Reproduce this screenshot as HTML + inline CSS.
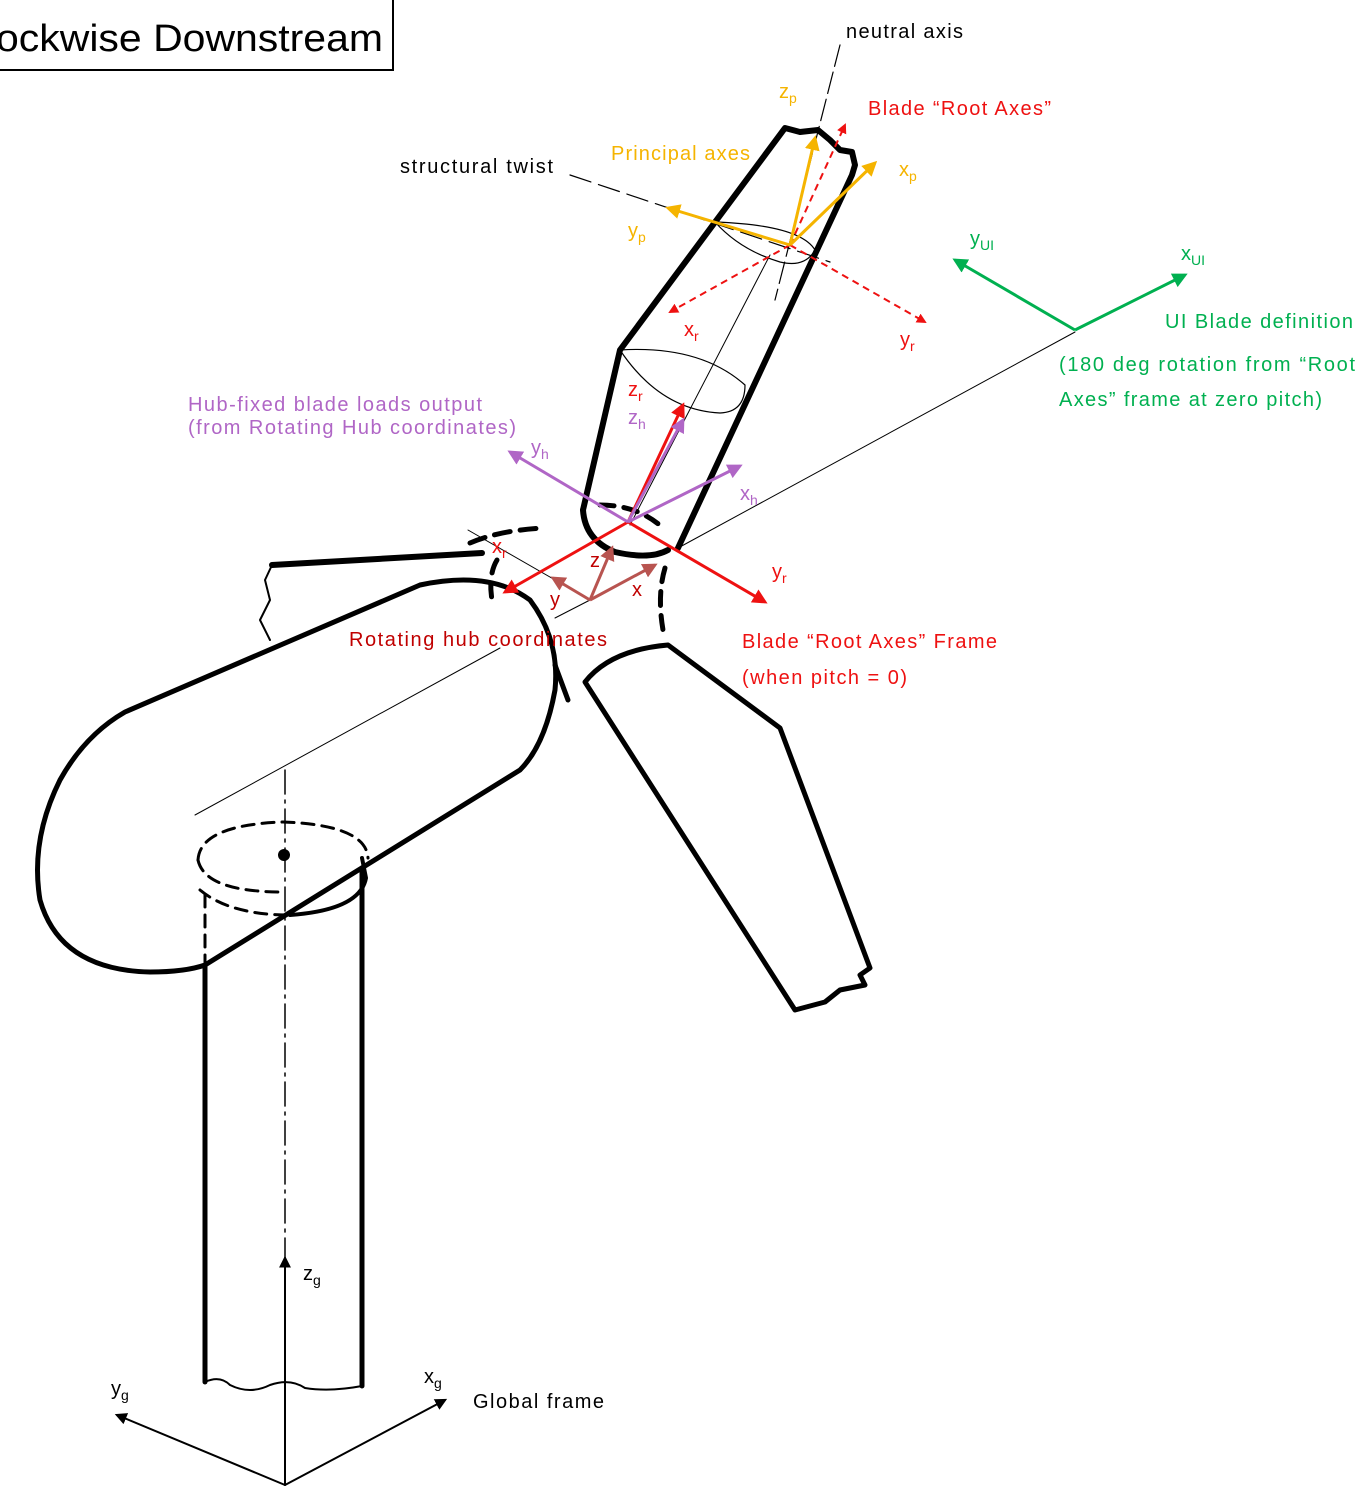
<!DOCTYPE html>
<html><head><meta charset="utf-8"><style>
html,body{margin:0;padding:0;background:#fff}
svg{display:block}
text{font-family:"Liberation Sans",sans-serif;font-size:20px}
</style></head><body>
<svg width="1371" height="1503" viewBox="0 0 1371 1503" xmlns="http://www.w3.org/2000/svg">
<defs>
<marker id="ar" viewBox="0 0 10 10" refX="8" refY="5" markerWidth="5" markerHeight="5" orient="auto"><path d="M0,0L10,5L0,10z" fill="#ee1111"/></marker>
<marker id="ap" viewBox="0 0 10 10" refX="8" refY="5" markerWidth="5" markerHeight="5" orient="auto"><path d="M0,0L10,5L0,10z" fill="#b066c6"/></marker>
<marker id="ao" viewBox="0 0 10 10" refX="8" refY="5" markerWidth="5" markerHeight="5" orient="auto"><path d="M0,0L10,5L0,10z" fill="#f5b400"/></marker>
<marker id="ag" viewBox="0 0 10 10" refX="8" refY="5" markerWidth="5" markerHeight="5" orient="auto"><path d="M0,0L10,5L0,10z" fill="#00b050"/></marker>
<marker id="ab" viewBox="0 0 10 10" refX="8" refY="5" markerWidth="5" markerHeight="5" orient="auto"><path d="M0,0L10,5L0,10z" fill="#b85450"/></marker>
<marker id="ak" viewBox="0 0 10 10" refX="8" refY="5" markerWidth="6" markerHeight="6" orient="auto"><path d="M0,0L10,5L0,10z" fill="#000"/></marker>
</defs>

<rect x="-5" y="-5" width="398" height="75" fill="none" stroke="#000" stroke-width="2"/>
<text x="-4" y="51" style="font-size:38px" textLength="387" lengthAdjust="spacingAndGlyphs">ockwise Downstream</text>

<g fill="none" stroke="#000" stroke-linecap="round" stroke-linejoin="round">
<line x1="840" y1="45" x2="775" y2="300" stroke-width="1.2" stroke-dasharray="22,6"/>
<line x1="570" y1="175" x2="830" y2="262" stroke-width="1.2" stroke-dasharray="22,8"/>
<line x1="770" y1="255" x2="630" y2="525" stroke-width="1"/>
<line x1="678" y1="548" x2="1075" y2="332" stroke-width="1"/>
<line x1="195" y1="815" x2="500" y2="648" stroke-width="1"/>
<line x1="468" y1="530" x2="590" y2="600" stroke-width="1"/>
<line x1="590" y1="600" x2="555" y2="618" stroke-width="1"/>
<line x1="285" y1="770" x2="285" y2="1260" stroke-width="1.5" stroke-dasharray="24,6,3,6"/>
<path d="M583,510 L620,350 L785,128 L800,132 L818,130 L830,140 L840,150 L852,152 L855,165 L852,175 L678,548" stroke-width="6"/>
<path d="M583,510 Q585,540 615,552 Q650,560 668,550" stroke-width="6"/>
<path d="M620,350 Q700,345 745,385 Q745,412 720,413 Q660,410 620,350" stroke-width="1.2"/>
<path d="M715,222 Q800,225 815,250 Q805,268 780,262 Q740,250 715,222" stroke-width="1.2"/>
<path d="M470,543 Q500,530 545,528" stroke-width="5" stroke-dasharray="16,10"/>
<path d="M497,560 Q488,575 492,600" stroke-width="5" stroke-dasharray="14,10"/>
<path d="M600,505 Q640,505 665,530" stroke-width="5" stroke-dasharray="14,10"/>
<path d="M665,568 Q657,595 663,630" stroke-width="5" stroke-dasharray="14,10"/>
<path d="M272,565 L482,553" stroke-width="6"/>
<path d="M272,565 L265,580 L270,600 L260,620 L270,640" stroke-width="2"/>
<path d="M125,712 L420,585 Q490,570 530,600 Q560,640 555,690 Q545,745 520,770 L205,965 Q185,972 150,972 Q60,970 40,900 Q30,840 60,780 Q85,735 125,712" stroke-width="5"/>
<path d="M555,665 L568,700" stroke-width="5"/>
<path d="M205,965 L205,1382" stroke-width="5"/>
<path d="M362,870 L362,1386" stroke-width="5"/>
<path d="M205,1382 Q220,1375 230,1385 Q250,1395 270,1385 Q290,1378 305,1388 Q330,1392 362,1386" stroke-width="2"/>
<path d="M198,860 Q200,825 283,822 Q366,825 368,858" stroke-width="3" stroke-dasharray="12,8"/>
<path d="M198,860 Q205,892 283,892" stroke-width="3" stroke-dasharray="12,8"/>
<path d="M205,895 L205,965" stroke-width="3" stroke-dasharray="12,8"/>
<path d="M290,915 Q360,910 366,878 L362,858" stroke-width="4"/>
<path d="M200,890 Q230,915 290,915" stroke-width="3" stroke-dasharray="12,8"/>
<circle cx="284" cy="855" r="6" fill="#000" stroke="none"/>
<path d="M585,682 Q610,650 668,645 L780,728 L870,968 L860,975 L865,985 L840,990 L825,1002 L795,1010 L585,682" stroke-width="5"/>
<line x1="285" y1="1485" x2="285" y2="1258" stroke-width="2" marker-end="url(#ak)"/>
<line x1="285" y1="1485" x2="117" y2="1415" stroke-width="2" marker-end="url(#ak)"/>
<line x1="285" y1="1485" x2="445" y2="1400" stroke-width="2" marker-end="url(#ak)"/>
</g>

<g stroke-width="2" fill="none">
<line x1="790" y1="245" x2="845" y2="125" stroke="#ee1111" stroke-dasharray="7,5" marker-end="url(#ar)"/>
<line x1="790" y1="245" x2="670" y2="312" stroke="#ee1111" stroke-dasharray="7,5" marker-end="url(#ar)"/>
<line x1="790" y1="245" x2="925" y2="322" stroke="#ee1111" stroke-dasharray="7,5" marker-end="url(#ar)"/>
<g stroke-width="3">
<line x1="790" y1="245" x2="815" y2="138" stroke="#f5b400" marker-end="url(#ao)"/>
<line x1="790" y1="245" x2="875" y2="163" stroke="#f5b400" marker-end="url(#ao)"/>
<line x1="790" y1="245" x2="668" y2="208" stroke="#f5b400" marker-end="url(#ao)"/>
<line x1="1075" y1="330" x2="955" y2="260" stroke="#00b050" marker-end="url(#ag)"/>
<line x1="1075" y1="330" x2="1185" y2="275" stroke="#00b050" marker-end="url(#ag)"/>
<line x1="628" y1="522" x2="683" y2="405" stroke="#ee1111" marker-end="url(#ar)"/>
<line x1="628" y1="522" x2="505" y2="592" stroke="#ee1111" marker-end="url(#ar)"/>
<line x1="628" y1="522" x2="765" y2="602" stroke="#ee1111" marker-end="url(#ar)"/>
<line x1="628" y1="522" x2="683" y2="420" stroke="#b066c6" marker-end="url(#ap)"/>
<line x1="628" y1="522" x2="510" y2="452" stroke="#b066c6" marker-end="url(#ap)"/>
<line x1="628" y1="522" x2="740" y2="466" stroke="#b066c6" marker-end="url(#ap)"/>
<line x1="590" y1="600" x2="612" y2="548" stroke="#b85450" marker-end="url(#ab)"/>
<line x1="590" y1="600" x2="553" y2="578" stroke="#b85450" marker-end="url(#ab)"/>
<line x1="590" y1="600" x2="655" y2="565" stroke="#b85450" marker-end="url(#ab)"/>
</g>
</g>

<g fill="#000">
<text x="846" y="38" textLength="117">neutral axis</text>
<text x="400" y="173" textLength="153">structural twist</text>
<text x="473" y="1408" textLength="131">Global frame</text>
<text x="303" y="1280">z<tspan font-size="14" dy="5">g</tspan></text>
<text x="111" y="1395">y<tspan font-size="14" dy="5">g</tspan></text>
<text x="424" y="1383">x<tspan font-size="14" dy="5">g</tspan></text>
</g>
<g fill="#f5b400">
<text x="611" y="160" textLength="139">Principal axes</text>
<text x="779" y="98">z<tspan font-size="14" dy="5">p</tspan></text>
<text x="899" y="176">x<tspan font-size="14" dy="5">p</tspan></text>
<text x="628" y="237">y<tspan font-size="14" dy="5">p</tspan></text>
</g>
<g fill="#ee1111">
<text x="868" y="115" textLength="183">Blade “Root Axes”</text>
<text x="684" y="336">x<tspan font-size="14" dy="5">r</tspan></text>
<text x="900" y="346">y<tspan font-size="14" dy="5">r</tspan></text>
<text x="628" y="396">z<tspan font-size="14" dy="5">r</tspan></text>
<text x="492" y="553">x<tspan font-size="14" dy="5">r</tspan></text>
<text x="772" y="578">y<tspan font-size="14" dy="5">r</tspan></text>
<text x="742" y="648" textLength="255">Blade “Root Axes” Frame</text>
<text x="742" y="684" textLength="165">(when pitch = 0)</text>
</g>
<g fill="#c00000">
<text x="349" y="646" textLength="258">Rotating hub coordinates</text>
<text x="590" y="567">z</text>
<text x="550" y="606">y</text>
<text x="632" y="596">x</text>
</g>
<g fill="#b066c6">
<text x="188" y="411" textLength="294">Hub-fixed blade loads output</text>
<text x="188" y="434" textLength="328">(from Rotating Hub coordinates)</text>
<text x="628" y="424">z<tspan font-size="14" dy="5">h</tspan></text>
<text x="531" y="454">y<tspan font-size="14" dy="5">h</tspan></text>
<text x="740" y="500">x<tspan font-size="14" dy="5">h</tspan></text>
</g>
<g fill="#00b050">
<text x="970" y="245">y<tspan font-size="14" dy="5">UI</tspan></text>
<text x="1181" y="260">x<tspan font-size="14" dy="5">UI</tspan></text>
<text x="1165" y="328" textLength="188">UI Blade definition</text>
<text x="1059" y="371" textLength="296">(180 deg rotation from “Root</text>
<text x="1059" y="406" textLength="263">Axes” frame at zero pitch)</text>
</g>
</svg>
</body></html>
